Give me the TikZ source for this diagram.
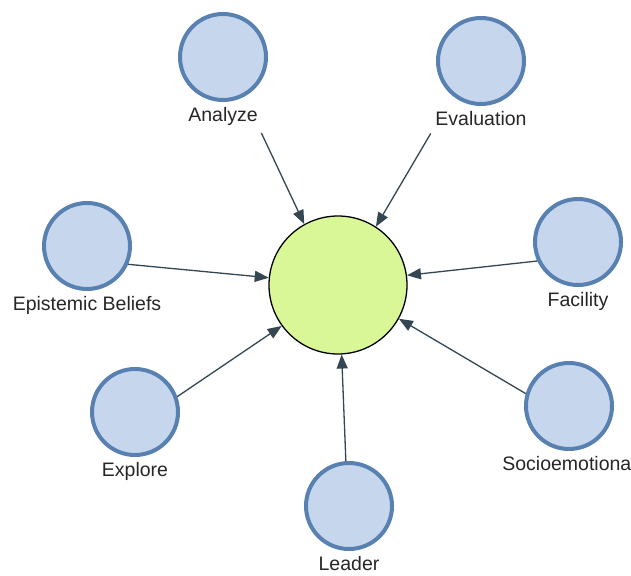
\documentclass[tikz,border=0pt]{standalone}
\usepackage{fontspec}
\setmainfont{Liberation Sans}
\usetikzlibrary{positioning,arrows.meta}
\definecolor{outerfill}{RGB}{198,215,237}
\definecolor{outerline}{RGB}{88,128,176}
\definecolor{hubfill}{RGB}{218,247,152}
\definecolor{connline}{RGB}{52,70,82}
\tikzset{
  outer/.style={circle,draw=outerline,line width=4pt,fill=outerfill,minimum size=86pt,inner sep=0pt},
  hubnode/.style={circle,draw=black,line width=1.3pt,fill=hubfill,minimum size=138pt,inner sep=0pt},
  lbl/.style={inner sep=0pt,font=\fontsize{19.5}{23}\selectfont,text=black!85},
  conn/.style={draw=connline,line width=1.3pt,-{Triangle[length=14pt,width=11pt]}}
}

\begin{document}
\begin{tikzpicture}[x=1pt,y=-1pt]
            \useasboundingbox (0,0) rectangle (631,575);
            \node[hubnode] (hub) at (338,285) {};
            \foreach \n/\x/\y/\t in {analyze/223/57/Analyze, evaluation/481/61/Evaluation,
                epistemic/87/246/Epistemic Beliefs, facility/578/242/Facility,
                socio/569/406/Socioemotional, leader/349/506/Leader, explore/135/412/Explore} {
                \node[outer] (\n) at (\x,\y) {};
                \node[lbl,anchor=north,below=5pt of \n] (\n-lbl) {\t};
            }
            \foreach \n/\a/\b in {epistemic/-24/174.4, facility/205/8.1, socio/164/-29.4,
                leader/94/-87.5, explore/20/-144.4} {
                \draw[conn] (\n.\a) -- (hub.\b);
            }
            \draw[conn,shorten <=8pt] (analyze-lbl.south east) -- (hub.119.7);
            \draw[conn,shorten <=9pt] (evaluation-lbl.south west) -- (hub.57.6);
        \end{tikzpicture}
\end{document}
